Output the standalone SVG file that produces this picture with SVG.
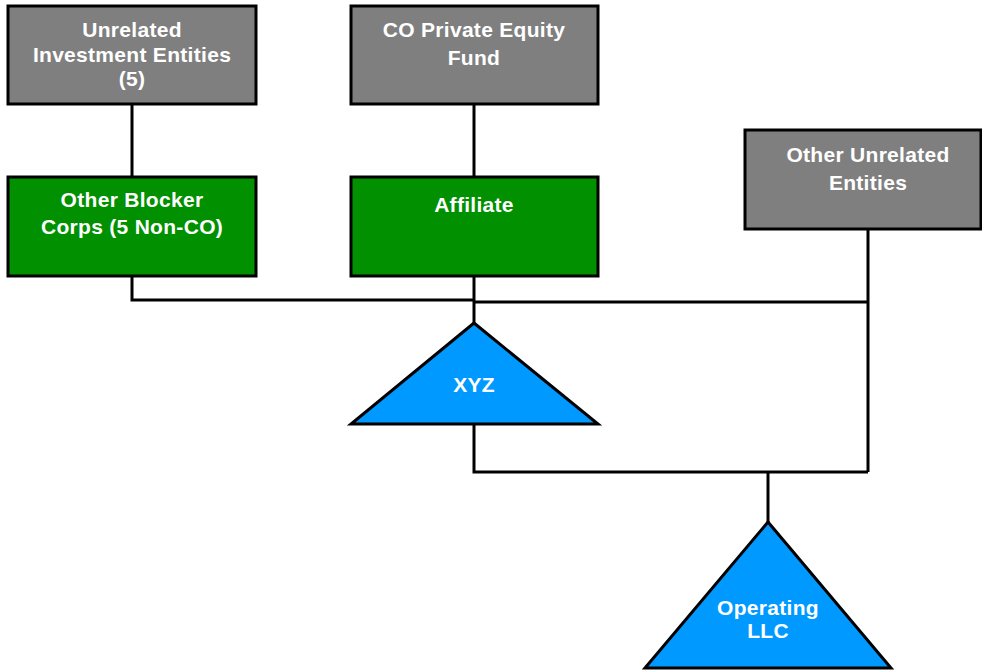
<svg xmlns="http://www.w3.org/2000/svg" width="982" height="672" viewBox="0 0 982 672">
<style>
.box{stroke:#000;stroke-width:3}
.gray{fill:#7f7f7f}
.green{fill:#009000}
.tri{fill:#0099ff;stroke:#000;stroke-width:3;stroke-linejoin:miter}
.lbl{font-family:"Liberation Sans",Arial,sans-serif;font-weight:bold;font-size:21px;fill:#fff;text-anchor:middle;letter-spacing:0.3px}
.tlbl{font-family:"Liberation Sans",Arial,sans-serif;font-weight:bold;font-size:21px;fill:#fff;text-anchor:middle;letter-spacing:0.3px}
.conn{fill:none;stroke:#000;stroke-width:3}
</style>
<rect width="982" height="672" fill="#fff"/>
<g id="connectors">
<path class="conn" d="M132 104V177"/>
<path class="conn" d="M474 104V177"/>
<path class="conn" d="M132 276V300H474"/>
<path class="conn" d="M474 276V323"/>
<path class="conn" d="M474 302H868"/>
<path class="conn" d="M868 229V472"/>
<path class="conn" d="M474 424V472H868"/>
<path class="conn" d="M768 472V522"/>
</g>
<g id="unrelated-investment">
<rect class="box gray" x="8" y="6" width="248" height="98"/>
<text class="lbl" x="132" y="37">Unrelated</text>
<text class="lbl" x="132" y="62">Investment Entities</text>
<text class="lbl" x="132" y="86">(5)</text>
</g>
<g id="co-pe-fund">
<rect class="box gray" x="351" y="6" width="247" height="98"/>
<text class="lbl" x="474" y="37">CO Private Equity</text>
<text class="lbl" x="474" y="65">Fund</text>
</g>
<g id="other-blocker">
<rect class="box green" x="8" y="177" width="248" height="99"/>
<text class="lbl" x="132" y="207">Other Blocker</text>
<text class="lbl" x="132" y="234">Corps (5 Non-CO)</text>
</g>
<g id="affiliate">
<rect class="box green" x="351" y="177" width="247" height="99"/>
<text class="lbl" x="474" y="212">Affiliate</text>
</g>
<g id="other-unrelated">
<rect class="box gray" x="745" y="130" width="236" height="99"/>
<text class="lbl" x="868" y="162">Other Unrelated</text>
<text class="lbl" x="868" y="190">Entities</text>
</g>
<g id="xyz">
<polygon class="tri" points="474,323 598,424 351,424"/>
<text class="tlbl" x="474" y="392">XYZ</text>
</g>
<g id="operating-llc">
<polygon class="tri" points="768,522 891,668 645,668"/>
<text class="tlbl" x="768" y="615">Operating</text>
<text class="tlbl" x="768" y="638">LLC</text>
</g>
</svg>
